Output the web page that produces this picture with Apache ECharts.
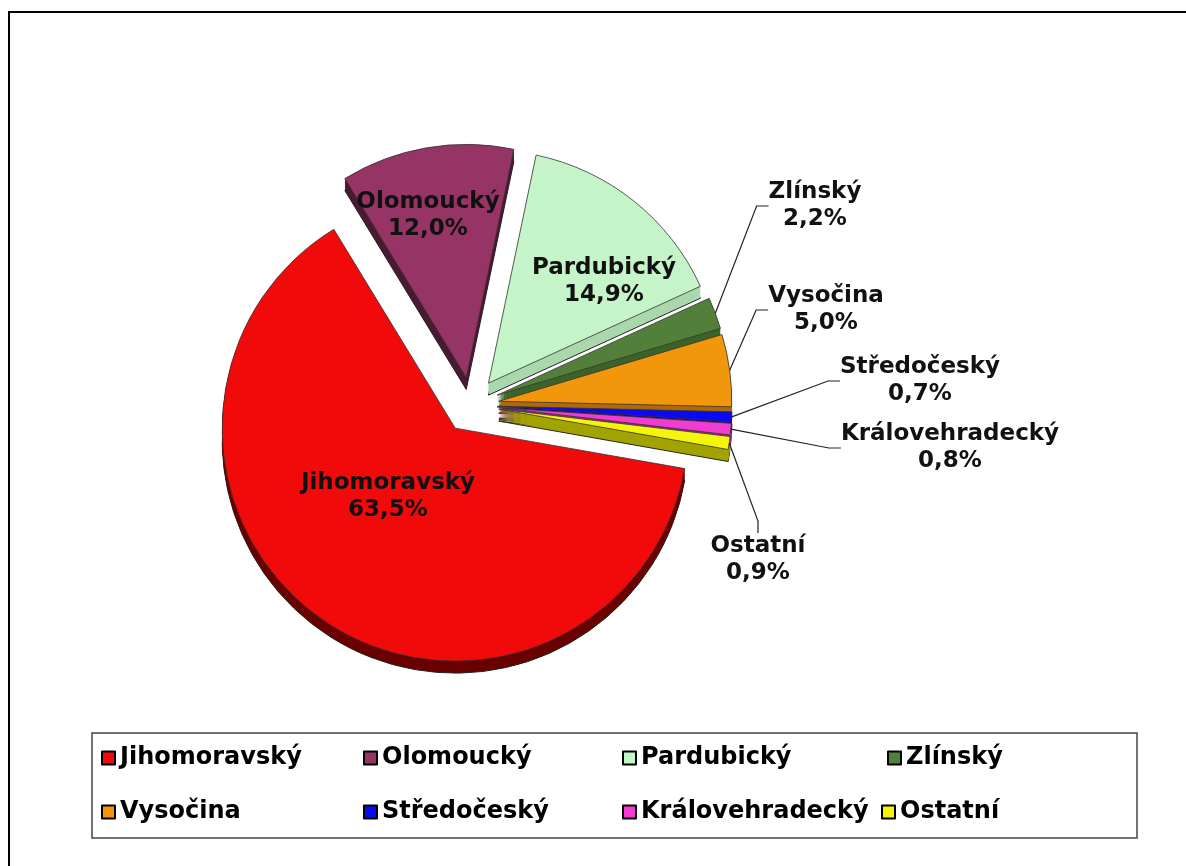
<!DOCTYPE html>
<html>
<head>
<meta charset="utf-8">
<script src="https://cdn.jsdelivr.net/npm/echarts@6.0.0/dist/echarts.min.js"></script>
<style>
  html, body { margin: 0; padding: 0; background: #fff; }
  #main { width: 1186px; height: 866px; }
</style>
</head>
<body>
<div id="main"></div>
<script>
// kraje + podil v %
var regions = ['Jihomoravský', 'Olomoucký', 'Pardubický', 'Zlínský', 'Vysočina', 'Středočeský', 'Královehradecký', 'Ostatní'];
var shares = [63.5, 12.0, 14.9, 2.2, 5.0, 0.7, 0.8, 0.9];

var topColors = ['#f20a0a', '#963466', '#c5f4c8', '#52803a', '#f2960c', '#0a0af2', '#f03ccf', '#f5f50a'];
var sideColors = ['#6a0000', '#4a1a33', '#aad8ac', '#3c6428', '#b06a06', '#00008a', '#a8208e', '#a3a300'];
var insideLabel = [true, true, true, false, false, false, false, false];

// kde sedi popisky a legenda
var labelSpots = [[388, 497], [428, 216], [604, 282], [815, 206], [826, 310], [920, 381], [950, 448], [758, 560]];
var legendSpots = [[101, 746], [363, 746], [622, 746], [887, 746], [101, 800], [363, 800], [622, 800], [881, 800]];

var chart = echarts.init(document.getElementById('main'));
var pieCenter = [471, 405];
var pieRadius = 233;
var explode = 28;
var depth = 12;
var font = 'DejaVu Sans';

function pct(v) {
  return v.toFixed(1).replace('.', ',') + '%';
}

var series = [];

// horni plocha
series.push({
  type: 'pie',
  z: 3,
  center: pieCenter,
  radius: pieRadius,
  startAngle: -10,
  clockwise: true,
  selectedMode: 'multiple',
  selectedOffset: explode,
  emphasis: { disabled: true },
  itemStyle: { borderColor: '#333', borderWidth: 0.8 },
  label: { show: false },
  labelLine: { show: false },
  data: regions.map(function (n, i) {
    return { name: n, value: shares[i], selected: true, itemStyle: { color: topColors[i] } };
  })
});

// bocni stena (3D)
for (var d = depth; d >= 1; d--) {
  series.push({
    type: 'pie',
    z: 2,
    silent: true,
    center: [pieCenter[0], pieCenter[1] + d],
    radius: pieRadius,
    startAngle: -10,
    clockwise: true,
    selectedMode: 'multiple',
    selectedOffset: explode,
    emphasis: { disabled: true },
    label: { show: false },
    labelLine: { show: false },
    itemStyle: { borderColor: '#222', borderWidth: d === depth ? 1 : 0 },
    data: regions.map(function (n, i) {
      return { name: n, value: shares[i], selected: true, itemStyle: { color: sideColors[i] } };
    })
  });
}

// popisky (pruhledna vrstva jen kvuli textum)
series.push({
  type: 'pie',
  z: 4,
  silent: true,
  center: pieCenter,
  radius: pieRadius + explode,
  startAngle: -10,
  clockwise: true,
  avoidLabelOverlap: false,
  emphasis: { disabled: true },
  itemStyle: { color: 'rgba(0,0,0,0)', borderWidth: 0 },
  label: {
    show: true,
    position: 'outside',
    formatter: function (p) { return p.name + '\n' + pct(p.value); },
    fontFamily: font,
    fontWeight: 'bold',
    fontSize: 23,
    lineHeight: 27,
    color: '#111',
    align: 'center'
  },
  labelLine: { show: true, length: 10, length2: 12, lineStyle: { color: '#222', width: 1.2 } },
  labelLayout: function (p) {
    var s = labelSpots[p.dataIndex];
    return { x: s[0], y: s[1], align: 'center', verticalAlign: 'middle' };
  },
  data: regions.map(function (n, i) {
    var item = { name: n, value: shares[i] };
    if (insideLabel[i]) {
      item.label = { position: 'inside' };
      item.labelLine = { show: false };
    }
    return item;
  })
});

var legends = regions.map(function (n, i) {
  return {
    data: [n],
    left: legendSpots[i][0],
    top: legendSpots[i][1],
    padding: 0,
    icon: 'rect',
    itemWidth: 13,
    itemHeight: 13,
    selectedMode: false,
    itemStyle: { borderColor: '#000', borderWidth: 2 },
    textStyle: { fontFamily: font, fontWeight: 'bold', fontSize: 24, color: '#000' }
  };
});

var option = {
  backgroundColor: '#fff',
  animation: false,
  legend: legends,
  graphic: [
    { type: 'rect', silent: true, shape: { x: 9, y: 12, width: 1200, height: 900 }, style: { fill: 'none', stroke: '#000', lineWidth: 2 } },
    { type: 'rect', silent: true, shape: { x: 92, y: 733, width: 1045, height: 105 }, style: { fill: 'none', stroke: '#444', lineWidth: 1.5 } }
  ],
  series: series
};

chart.setOption(option);
</script>
</body>
</html>
